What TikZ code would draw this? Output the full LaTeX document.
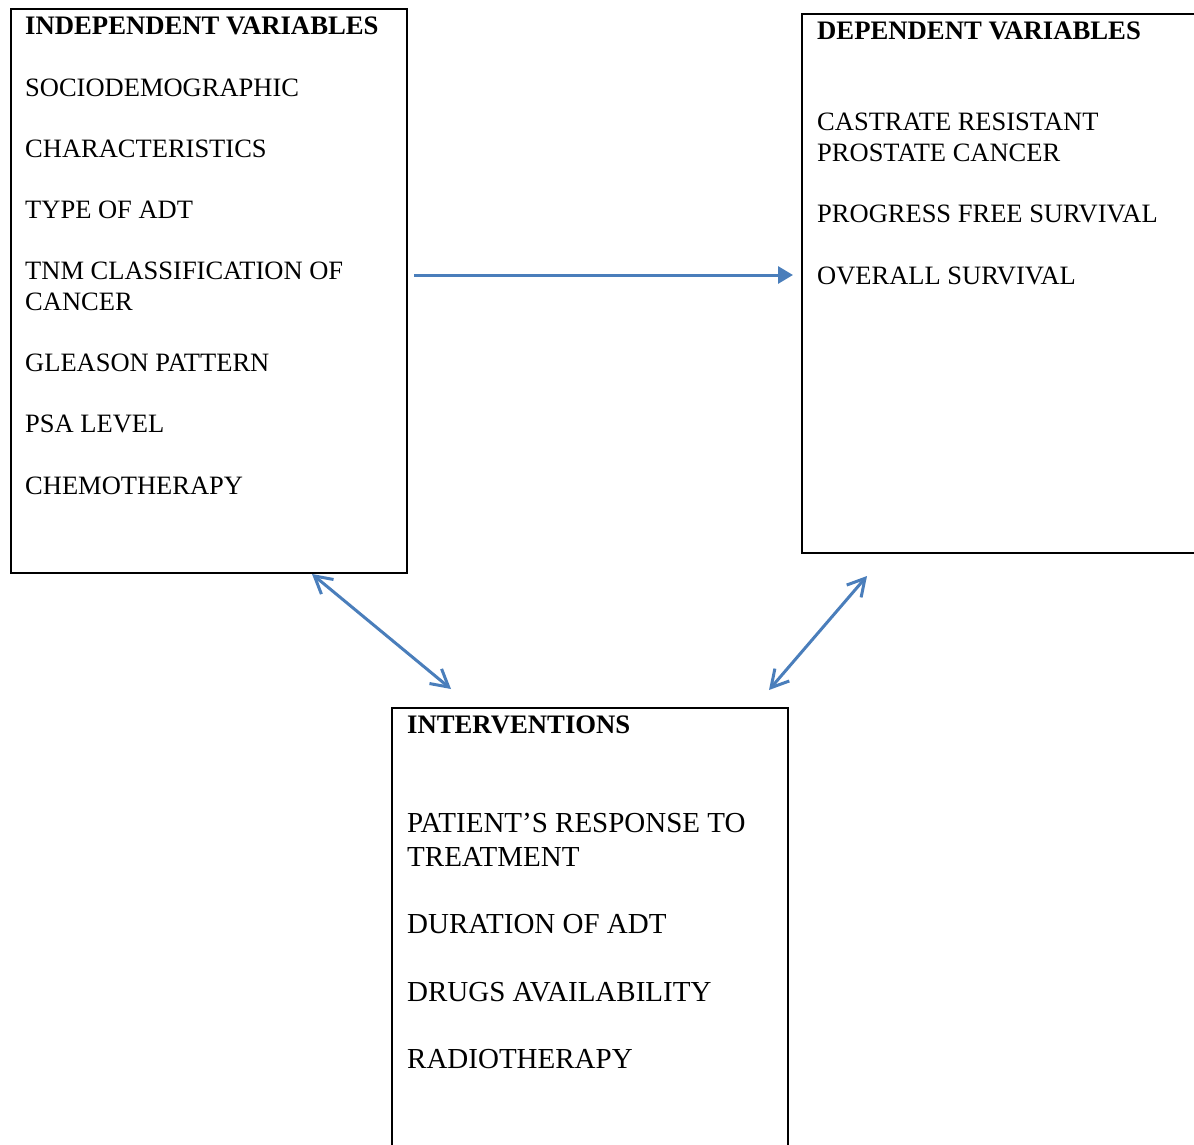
\documentclass[tikz,border=0pt]{standalone}
\usepackage{fontspec}
\setmainfont{Liberation Serif}
\usetikzlibrary{arrows.meta}
\definecolor{arrowblue}{HTML}{4A7EBB}
\tikzset{
  box/.style={draw=black, line width=2.2pt, rectangle, inner sep=0pt},
  txt/.style={anchor=base west, inner sep=0pt, font=\fontsize{26.5}{31}\selectfont},
  ttl/.style={anchor=base west, inner sep=0pt, font=\fontsize{26.7}{31}\selectfont\bfseries},
  btxt/.style={anchor=base west, inner sep=0pt, font=\fontsize{29}{34}\selectfont},
  flow/.style={draw=arrowblue, line width=3pt, -{Triangle[length=15pt,width=17pt]}},
  both/.style={draw=arrowblue, line width=3pt, {Straight Barb[length=17pt,width=19pt,line width=3pt]}-{Straight Barb[length=17pt,width=19pt,line width=3pt]}}
}
\begin{document}
\begin{tikzpicture}[x=1pt,y=-1pt]
\useasboundingbox (0,0) rectangle (1194,1144);
% boxes
\node[box, minimum width=396pt, minimum height=564pt] (indep) at (209,291) {};
\node[box, minimum width=400pt, minimum height=539pt] (dep) at (1002,283.5) {};
\node[box, minimum width=396pt, minimum height=460pt] (interv) at (590,938) {};
% left box text
\node[ttl] (t1) at (25,34) {INDEPENDENT VARIABLES};
\node[txt] (l1) at (25,96) {SOCIODEMOGRAPHIC};
\node[txt] (l2) at (25,157) {CHARACTERISTICS};
\node[txt] (l3) at (25,218) {TYPE OF ADT};
\node[txt] (l4) at (25,279) {TNM CLASSIFICATION OF};
\node[txt] (l5) at (25,310) {CANCER};
\node[txt] (l6) at (25,371) {GLEASON PATTERN};
\node[txt] (l7) at (25,432) {PSA LEVEL};
\node[txt] (l8) at (25,494) {CHEMOTHERAPY};
% right box text
\node[ttl] (t2) at (817,39) {DEPENDENT VARIABLES};
\node[txt] (r1) at (817,130) {CASTRATE RESISTANT};
\node[txt] (r2) at (817,161) {PROSTATE CANCER};
\node[txt] (r3) at (817,222) {PROGRESS FREE SURVIVAL};
\node[txt] (r4) at (817,284) {OVERALL SURVIVAL};
% bottom box text
\node[ttl] (t3) at (407,733) {INTERVENTIONS};
\node[btxt] (b1) at (407,832) {PATIENT’S RESPONSE TO};
\node[btxt] (b2) at (407,866) {TREATMENT};
\node[btxt] (b3) at (407,933) {DURATION OF ADT};
\node[btxt] (b4) at (407,1001) {DRUGS AVAILABILITY};
\node[btxt] (b5) at (407,1068) {RADIOTHERAPY};
% arrow end points
\coordinate (h1) at (414,275);
\coordinate (h2) at (793,275);
\coordinate (d1a) at (312,574);
\coordinate (d1b) at (451,689);
\coordinate (d2a) at (867,576);
\coordinate (d2b) at (769,690);
\draw[flow] (h1) -- (h2);
\draw[both] (d1a) -- (d1b);
\draw[both] (d2a) -- (d2b);
\end{tikzpicture}
\end{document}
